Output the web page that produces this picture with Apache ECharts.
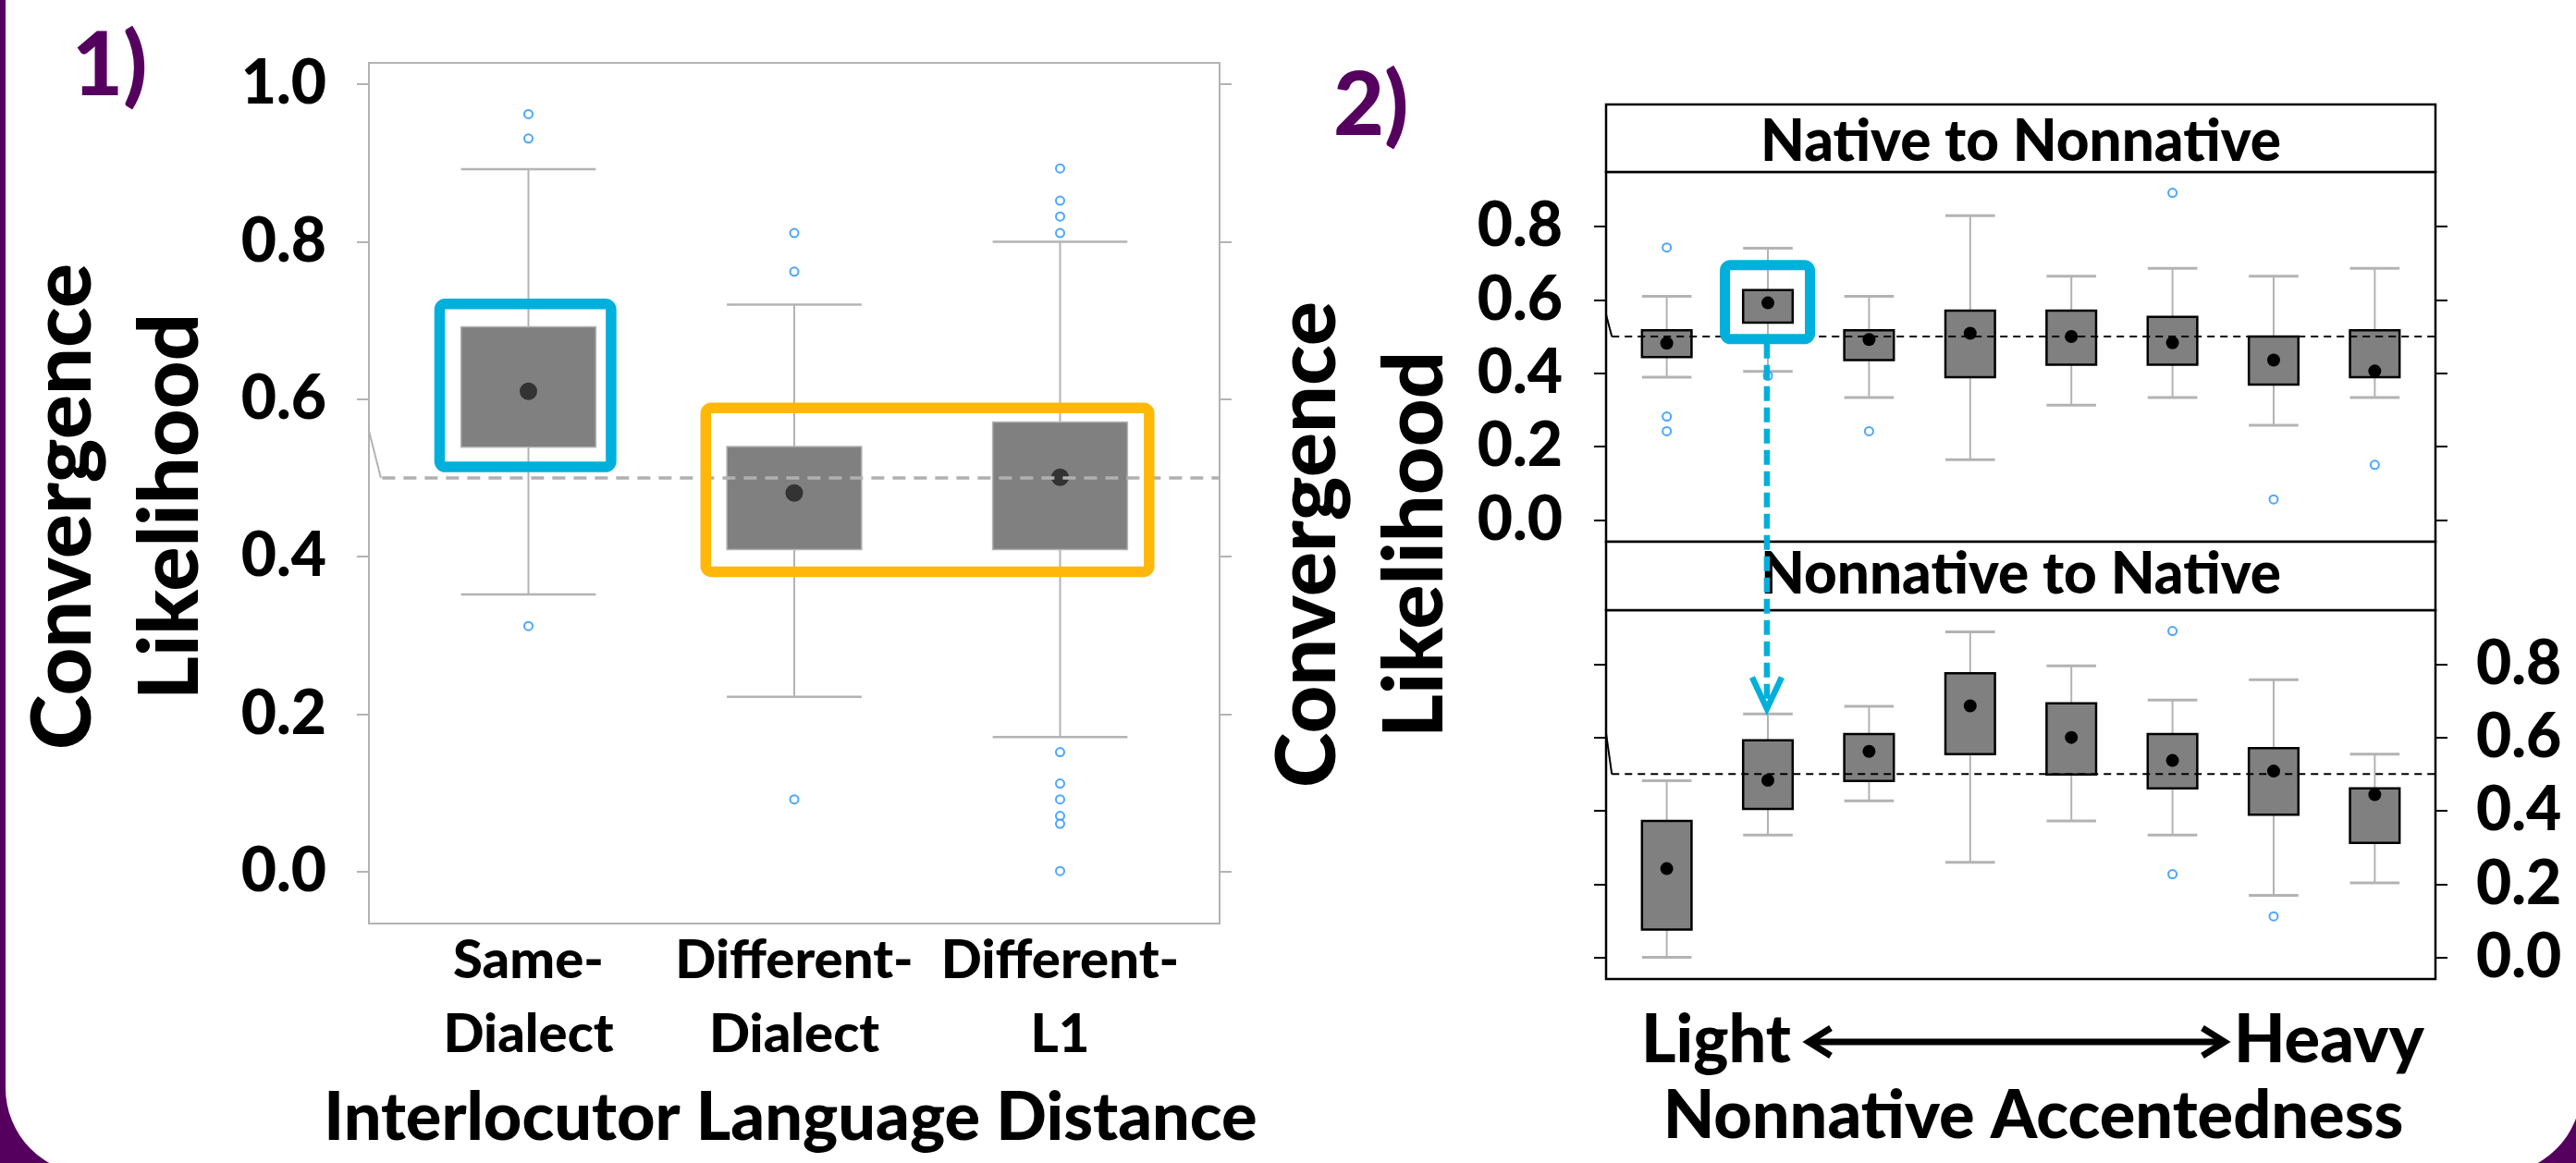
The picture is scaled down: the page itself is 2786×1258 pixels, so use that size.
<!DOCTYPE html>
<html>
<head>
<meta charset="utf-8">
<script src="https://cdn.jsdelivr.net/npm/echarts@6/dist/echarts.min.js"></script>
<style>
html,body{margin:0;padding:0;background:#55005f;}
#chart{width:2786px;height:1258px;}
</style>
</head>
<body>
<div id="chart"></div>
<script>
// ---------------- DATA ----------------
// Panel 1: categories of interlocutor language distance
const cats1 = ['Same-\nDialect', 'Different-\nDialect', 'Different-\nL1'];
// [min whisker, Q1, median, Q3, max whisker]
const boxes1 = [
  [0.352, 0.539, 0.610, 0.692, 0.892],
  [0.222, 0.409, 0.481, 0.540, 0.720],
  [0.171, 0.409, 0.501, 0.571, 0.800]
];
const outliers1 = [
  [0.962, 0.931, 0.312],
  [0.811, 0.762, 0.092],
  [0.893, 0.852, 0.832, 0.811, 0.152, 0.112, 0.092, 0.071, 0.061, 0.001]
];
const ticks1 = [0, 0.2, 0.4, 0.6, 0.8, 1.0];

// Panel 2: accentedness levels 1 (light) .. 8 (heavy)
const levels2 = [1, 2, 3, 4, 5, 6, 7, 8];
const stripTop = 'Native to Nonnative';
const stripBottom = 'Nonnative to Native';
const boxesTop = [
  [0.389, 0.444, 0.482, 0.517, 0.610],
  [0.405, 0.538, 0.592, 0.627, 0.741],
  [0.334, 0.436, 0.492, 0.517, 0.610],
  [0.164, 0.389, 0.509, 0.571, 0.830],
  [0.313, 0.423, 0.500, 0.571, 0.665],
  [0.334, 0.423, 0.483, 0.554, 0.686],
  [0.258, 0.369, 0.436, 0.500, 0.665],
  [0.334, 0.389, 0.406, 0.517, 0.686]
];
const outliersTop = [
  [0.743, 0.282, 0.242],
  [0.393],
  [0.242],
  [],
  [],
  [0.892],
  [0.056],
  [0.150]
];
const boxesBottom = [
  [0.000, 0.076, 0.242, 0.372, 0.482],
  [0.334, 0.405, 0.483, 0.592, 0.664],
  [0.427, 0.481, 0.562, 0.609, 0.685],
  [0.259, 0.554, 0.686, 0.775, 0.888],
  [0.372, 0.499, 0.600, 0.693, 0.795],
  [0.334, 0.461, 0.537, 0.609, 0.702],
  [0.169, 0.389, 0.508, 0.571, 0.757],
  [0.203, 0.312, 0.444, 0.461, 0.554]
];
const outliersBottom = [
  [], [], [], [], [],
  [0.890, 0.227],
  [0.112],
  []
];
const ticks2 = [0, 0.2, 0.4, 0.6, 0.8];
const chanceLevel = 0.5;

// annotation boxes [x0, yTop, x1, yBottom] in data units
const annotCyan1 = [[0.666, 0.721, 1.311, 0.514]];
const annotOrange1 = [[1.667, 0.589, 3.335, 0.381]];
const annotCyan2 = [[1.575, 0.695, 2.416, 0.493]];
const arrowX = 1.99, arrowFromY = 0.493, arrowToY = 0.678;

// small slanted segments at panels' left edge
const slant1 = [[0.40, 0.56], [0.445, 0.50]];
const slantTop = [[0.40, 0.56], [0.457, 0.50]];
const slantBottom = [[0.40, 0.611], [0.457, 0.50]];

// ---------------- STYLE / LAYOUT ----------------
const FONT = 'Lato';
const FW = '900';
const PURPLE = '#55005f';
const CYAN = '#00b0dc';
const ORANGE = '#ffb80a';
const OUTBLUE = '#1e90ff';
const G0 = {left: 399, top: 68, width: 920, height: 931};
const G1 = {left: 1737, top: 186, width: 897, height: 400};
const G2 = {left: 1737, top: 660, width: 897, height: 399};

const toBoxData = (arr) => arr.map((b, i) => [i + 1].concat(b));
const toOutData = (arr) => {
  const out = [];
  arr.forEach((vals, i) => vals.forEach(v => out.push([i + 1, v])));
  return out;
};

function boxRenderer(o) {
  return function (params, api) {
    const x = api.value(0);
    const pMin = api.coord([x, api.value(1)]);
    const pQ1 = api.coord([x, api.value(2)]);
    const pMed = api.coord([x, api.value(3)]);
    const pQ3 = api.coord([x, api.value(4)]);
    const pMax = api.coord([x, api.value(5)]);
    const w = api.size([o.boxW, 0])[0];
    const cx = pMed[0];
    const ws = {stroke: o.whisker, lineWidth: o.whiskerW};
    const cs = {stroke: o.whisker, lineWidth: o.capW};
    return {
      type: 'group',
      children: [
        {type: 'line', shape: {x1: cx, y1: pQ3[1], x2: cx, y2: pMax[1]}, style: ws},
        {type: 'line', shape: {x1: cx, y1: pQ1[1], x2: cx, y2: pMin[1]}, style: ws},
        {type: 'line', shape: {x1: cx - w / 2, y1: pMax[1], x2: cx + w / 2, y2: pMax[1]}, style: cs},
        {type: 'line', shape: {x1: cx - w / 2, y1: pMin[1], x2: cx + w / 2, y2: pMin[1]}, style: cs},
        {type: 'rect', shape: {x: cx - w / 2, y: pQ3[1], width: w, height: pQ1[1] - pQ3[1]},
          style: {fill: '#808080', stroke: o.boxStroke, lineWidth: o.boxStrokeW}},
        {type: 'circle', shape: {cx: cx, cy: pMed[1], r: o.dotR}, style: {fill: o.dot}}
      ]
    };
  };
}

function annotRenderer(color, lw) {
  return function (params, api) {
    const p0 = api.coord([api.value(0), api.value(1)]);
    const p1 = api.coord([api.value(2), api.value(3)]);
    return {
      type: 'rect',
      shape: {x: p0[0], y: p0[1], width: p1[0] - p0[0], height: p1[1] - p0[1], r: 6},
      style: {fill: 'none', stroke: color, lineWidth: lw}
    };
  };
}

const labelStyle = {fontFamily: FONT, fontWeight: FW, color: '#000', fontSize: 66};

function yAxisDef(grid, min, max, ticks, position, showLabel, tickColor, margin, pad) {
  return {
    gridIndex: grid, type: 'value', min: min, max: max, position: position,
    axisLine: {show: false}, splitLine: {show: false},
    axisTick: {show: true, length: 13, customValues: ticks, lineStyle: {color: tickColor, width: 2}},
    axisLabel: Object.assign({
      show: showLabel, customValues: ticks, margin: margin,
      padding: [pad, 0, 0, 0],
      formatter: v => Number(v).toFixed(1)
    }, labelStyle)
  };
}

const chart = echarts.init(document.getElementById('chart'), null, {renderer: 'canvas'});

const option = {
  backgroundColor: PURPLE,
  animation: false,
  grid: [
    Object.assign({show: true, borderColor: '#b3b3b3', borderWidth: 2, backgroundColor: 'transparent'}, G0),
    Object.assign({show: true, borderColor: '#000', borderWidth: 2.5, backgroundColor: 'transparent'}, G1),
    Object.assign({show: true, borderColor: '#000', borderWidth: 2.5, backgroundColor: 'transparent'}, G2)
  ],
  xAxis: [
    {gridIndex: 0, type: 'value', min: 0.4, max: 3.6,
      axisLine: {show: false}, axisTick: {show: false}, splitLine: {show: false},
      axisLabel: {customValues: [1, 2, 3], formatter: v => cats1[Math.round(v) - 1],
        fontFamily: FONT, fontWeight: FW, color: '#000', fontSize: 58, lineHeight: 80, margin: 0}},
    {gridIndex: 1, type: 'value', min: 0.4, max: 8.6,
      axisLine: {show: false}, axisTick: {show: false}, splitLine: {show: false}, axisLabel: {show: false}},
    {gridIndex: 2, type: 'value', min: 0.4, max: 8.6,
      axisLine: {show: false}, axisTick: {show: false}, splitLine: {show: false}, axisLabel: {show: false}}
  ],
  yAxis: [
    yAxisDef(0, -0.0657, 1.027, ticks1, 'left', true, '#b3b3b3', 46, 22),
    yAxisDef(0, -0.0657, 1.027, ticks1, 'right', false, '#b3b3b3', 46, 0),
    yAxisDef(1, -0.0596, 0.949, ticks2, 'left', true, '#000', 47, 10),
    yAxisDef(1, -0.0596, 0.949, ticks2, 'right', false, '#000', 44, 0),
    yAxisDef(2, -0.059, 0.947, ticks2, 'left', false, '#000', 47, 0),
    yAxisDef(2, -0.059, 0.947, ticks2, 'right', true, '#000', 44, 8)
  ],
  series: [
    // ---- panel 1 ----
    {type: 'line', xAxisIndex: 0, yAxisIndex: 0, data: slant1, symbol: 'none',
      lineStyle: {color: '#b3b3b3', width: 2}, z: 2},
    {type: 'custom', xAxisIndex: 0, yAxisIndex: 0, data: toBoxData(boxes1),
      encode: {x: 0, y: [1, 2, 3, 4, 5]},
      renderItem: boxRenderer({boxW: 0.507, whisker: '#b3b3b3', whiskerW: 2, capW: 2.5,
        boxStroke: '#b3b3b3', boxStrokeW: 1.5, dot: '#333', dotR: 9.5}), z: 3},
    {type: 'line', xAxisIndex: 0, yAxisIndex: 0, data: [[0.45, chanceLevel], [3.6, chanceLevel]], symbol: 'none',
      lineStyle: {color: '#b0b0b0', width: 3.5, type: [14, 9]}, z: 4},
    {type: 'scatter', xAxisIndex: 0, yAxisIndex: 0, data: toOutData(outliers1),
      symbol: 'emptyCircle', symbolSize: 9, itemStyle: {color: OUTBLUE, borderColor: OUTBLUE, borderWidth: 2}, z: 5},
    {type: 'custom', xAxisIndex: 0, yAxisIndex: 0, data: annotCyan1, encode: {x: [0, 2], y: [1, 3]},
      renderItem: annotRenderer(CYAN, 11.5), z: 6},
    {type: 'custom', xAxisIndex: 0, yAxisIndex: 0, data: annotOrange1, encode: {x: [0, 2], y: [1, 3]},
      renderItem: annotRenderer(ORANGE, 11.5), z: 6},
    // ---- panel 2 top ----
    {type: 'line', xAxisIndex: 1, yAxisIndex: 2, data: slantTop, symbol: 'none',
      lineStyle: {color: '#000', width: 2}, z: 2},
    {type: 'custom', xAxisIndex: 1, yAxisIndex: 2, data: toBoxData(boxesTop),
      encode: {x: 0, y: [1, 2, 3, 4, 5]},
      renderItem: boxRenderer({boxW: 0.49, whisker: '#b3b3b3', whiskerW: 2, capW: 3,
        boxStroke: '#000', boxStrokeW: 2.5, dot: '#000', dotR: 7}), z: 3},
    {type: 'line', xAxisIndex: 1, yAxisIndex: 2, data: [[0.457, chanceLevel], [8.6, chanceLevel]], symbol: 'none',
      lineStyle: {color: '#000', width: 2, type: [8, 6]}, z: 4},
    {type: 'scatter', xAxisIndex: 1, yAxisIndex: 2, data: toOutData(outliersTop),
      symbol: 'emptyCircle', symbolSize: 9, itemStyle: {color: OUTBLUE, borderColor: OUTBLUE, borderWidth: 2}, z: 5},
    {type: 'custom', xAxisIndex: 1, yAxisIndex: 2, data: annotCyan2, encode: {x: [0, 2], y: [1, 3]},
      renderItem: annotRenderer(CYAN, 11), z: 6},
    // ---- panel 2 bottom ----
    {type: 'line', xAxisIndex: 2, yAxisIndex: 4, data: slantBottom, symbol: 'none',
      lineStyle: {color: '#000', width: 2}, z: 2},
    {type: 'custom', xAxisIndex: 2, yAxisIndex: 4, data: toBoxData(boxesBottom),
      encode: {x: 0, y: [1, 2, 3, 4, 5]},
      renderItem: boxRenderer({boxW: 0.49, whisker: '#b3b3b3', whiskerW: 2, capW: 3,
        boxStroke: '#000', boxStrokeW: 2.5, dot: '#000', dotR: 7}), z: 3},
    {type: 'line', xAxisIndex: 2, yAxisIndex: 4, data: [[0.457, chanceLevel], [8.6, chanceLevel]], symbol: 'none',
      lineStyle: {color: '#000', width: 2, type: [8, 6]}, z: 4},
    {type: 'scatter', xAxisIndex: 2, yAxisIndex: 4, data: toOutData(outliersBottom),
      symbol: 'emptyCircle', symbolSize: 9, itemStyle: {color: OUTBLUE, borderColor: OUTBLUE, borderWidth: 2}, z: 5}
  ]
};

chart.setOption(option);

// ---------------- TEXT / FRAME GRAPHICS ----------------
const titleFont = (size) => FW + ' ' + size + 'px ' + FONT;
const p0 = chart.convertToPixel({gridIndex: 1}, [arrowX, arrowFromY]);
const p1 = chart.convertToPixel({gridIndex: 2}, [arrowX, arrowToY]);

const graphics = [
  {type: 'rect', z: -100, shape: {x: 6, y: -300, width: 2786, height: 1570, r: 93}, style: {fill: '#fff'}},
  {type: 'text', x: 78, y: 72, style: {text: '1)', font: titleFont(95), fill: PURPLE, align: 'left', verticalAlign: 'middle'}},
  {type: 'text', x: 1442, y: 115, style: {text: '2)', font: titleFont(95), fill: PURPLE, align: 'left', verticalAlign: 'middle'}},
  {type: 'text', x: 127, y: 548, rotation: Math.PI / 2,
    style: {text: 'Convergence\nLikelihood', font: titleFont(90), lineHeight: 116, fill: '#000', align: 'center', verticalAlign: 'middle'}},
  {type: 'text', x: 1473, y: 589, rotation: Math.PI / 2,
    style: {text: 'Convergence\nLikelihood', font: titleFont(90), lineHeight: 116, fill: '#000', align: 'center', verticalAlign: 'middle'}},
  {type: 'text', x: 855, y: 1210, style: {text: 'Interlocutor Language Distance', font: titleFont(72), fill: '#000', align: 'center', verticalAlign: 'middle'}},
  {type: 'text', x: 2199, y: 1208, style: {text: 'Nonnative Accentedness', font: titleFont(72), fill: '#000', align: 'center', verticalAlign: 'middle'}},
  {type: 'text', x: 1937, y: 1126, style: {text: 'Light', font: titleFont(72), fill: '#000', align: 'right', verticalAlign: 'middle'}},
  {type: 'text', x: 2416, y: 1126, style: {text: 'Heavy', font: titleFont(72), fill: '#000', align: 'left', verticalAlign: 'middle'}},
  // double-headed arrow
  {type: 'line', shape: {x1: 1958, y1: 1127, x2: 2404, y2: 1127}, style: {stroke: '#000', lineWidth: 7}},
  {type: 'polyline', shape: {points: [[1980, 1112], [1956, 1127], [1980, 1142]]}, style: {stroke: '#000', lineWidth: 7, fill: null}},
  {type: 'polyline', shape: {points: [[2382, 1112], [2406, 1127], [2382, 1142]]}, style: {stroke: '#000', lineWidth: 7, fill: null}},
  // strips
  {type: 'rect', shape: {x: G1.left, y: 113, width: G1.width, height: G1.top - 113}, style: {fill: '#fff', stroke: '#000', lineWidth: 2.5}},
  {type: 'rect', shape: {x: G2.left, y: G1.top + G1.height, width: G2.width, height: G2.top - G1.top - G1.height}, style: {fill: '#fff', stroke: '#000', lineWidth: 2.5}},
  {type: 'text', x: G1.left + G1.width / 2, y: 154, style: {text: stripTop, font: titleFont(62), fill: '#000', align: 'center', verticalAlign: 'middle'}},
  {type: 'text', x: G2.left + G2.width / 2, y: 622, style: {text: stripBottom, font: titleFont(62), fill: '#000', align: 'center', verticalAlign: 'middle'}, z: 10},
  // cyan dashed arrow between panels
  {type: 'line', z: 20, shape: {x1: p0[0], y1: p0[1] + 5, x2: p1[0], y2: p1[1] - 6},
    style: {stroke: CYAN, lineWidth: 6.5, lineDash: [16, 7]}},
  {type: 'polyline', z: 20, shape: {points: [[p1[0] - 16, p1[1] - 34], [p1[0], p1[1]], [p1[0] + 16, p1[1] - 34]]},
    style: {stroke: CYAN, lineWidth: 6.5, fill: null}}
];
chart.setOption({graphic: {elements: graphics}});
</script>
</body>
</html>
